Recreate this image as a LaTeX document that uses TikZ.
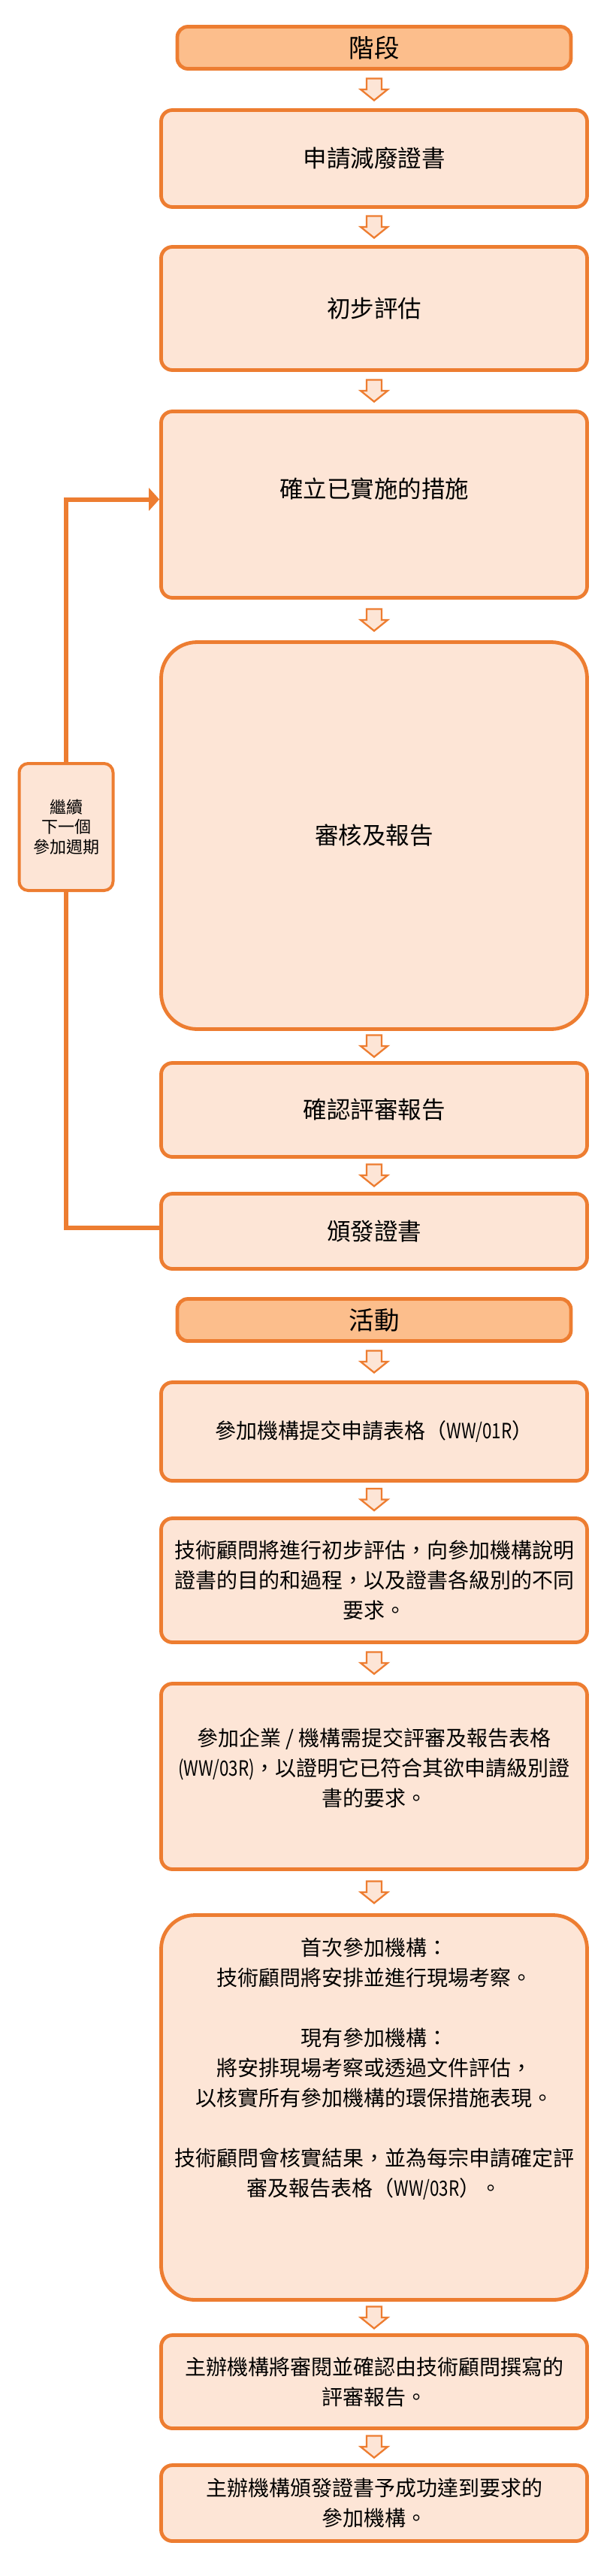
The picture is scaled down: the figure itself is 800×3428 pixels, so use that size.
\documentclass[tikz,border=0pt]{standalone}
\usepackage{fontspec}
\usepackage{graphicx}
\setmainfont{Noto Sans CJK TC}
\usetikzlibrary{calc,arrows.meta}
\definecolor{orn}{HTML}{ED7D31}
\definecolor{lite}{HTML}{FDE5D6}
\definecolor{hdrf}{HTML}{FCBE8C}
\newcommand\lat[1]{\scalebox{0.8}[1]{#1}}
\newcommand\barr[2]{%
  \coordinate (m-#1) at ($(#1.south)!0.5!(#2.north)$);
  \draw[barrow] ($(m-#1)+(-10,-14.5)$) -- ++(20,0) -- ++(0,14.5) -- ++(8,0)
     -- ($(m-#1)+(0,14.5)$) -- ($(m-#1)+(-18,0)$) -- ++(8,0) -- cycle;}
\begin{document}
\begin{tikzpicture}[x=1pt,y=-1pt,
  box/.style={draw=orn, fill=lite, line width=4.8pt, rounded corners=15pt, inner sep=0pt,
    minimum width=567pt, align=center, font=\fontsize{31.5}{40}\selectfont},
  hdr/.style={box, fill=hdrf, minimum width=524pt, minimum height=56pt, rounded corners=14pt,
    font=\fontsize{33.5}{40}\selectfont},
  act/.style={box, font=\fontsize{28}{40}\selectfont},
  stxt/.style={align=center, inner sep=0pt, font=\fontsize{31.5}{40}\selectfont},
  atxt/.style={align=center, inner sep=0pt, font=\fontsize{28}{40}\selectfont},
  loopbox/.style={draw=orn, fill=lite, line width=4pt, rounded corners=12pt, inner sep=0pt,
    minimum width=125pt, minimum height=169pt, align=center, font=\fontsize{22}{26.5}\selectfont},
  barrow/.style={draw=orn, fill=lite, line width=2.3pt, line join=miter},
  fb/.style={draw=orn, line width=6pt}]
\useasboundingbox (0,0) rectangle (800,3428);

% stages
\node[hdr] (h1) at (498,63.5) {階段};
\node[box, minimum height=129pt] (s1) at (498,211) {申請減廢證書};
\node[box, minimum height=164pt] (s2) at (498,410.5) {初步評估};
\node[box, minimum height=248pt, label={[stxt,yshift=21.5pt]center:確立已實施的措施}] (s3) at (498,671.5) {};
\node[box, minimum height=515pt, rounded corners=48pt] (s4) at (498,1112) {審核及報告};
\node[box, minimum height=125pt] (s5) at (498,1477) {確認評審報告};
\node[box, minimum height=100pt] (s6) at (498,1638.5) {頒發證書};

% loop
\node[loopbox] (loop) at (88,1100.5) {繼續\\下一個\\參加週期};
\draw[fb] ($(s6.west)+(0,-5)$) -| (loop.south);
\draw[fb,-{Triangle[length=14pt,width=30pt]}] (loop.north) |- ($(s3.west)+(0,-7)$);

% activities
\node[hdr] (h2) at (498,1756.5) {活動};
\node[act, minimum height=131pt] (a1) at (498,1905) {參加機構提交申請表格（\lat{WW/01R}）};
\node[act, minimum height=165pt] (a2) at (498,2103) {技術顧問將進行初步評估，向參加機構說明\\證書的目的和過程，以及證書各級別的不同\\要求。};
\node[act, minimum height=247pt, label={[atxt,yshift=11pt]center:參加企業 / 機構需提交評審及報告表格\\\lat{(WW/03R)}，以證明它已符合其欲申請級別證\\書的要求。}] (a3) at (498,2364) {};
\node[act, minimum height=512pt, rounded corners=45pt, label={[atxt,yshift=51.5pt]center:首次參加機構：\\技術顧問將安排並進行現場考察。\\[40pt]現有參加機構：\\將安排現場考察或透過文件評估，\\以核實所有參加機構的環保措施表現。\\[40pt]技術顧問會核實結果，並為每宗申請確定評\\審及報告表格（\lat{WW/03R}）。}] (a4) at (498,2804.5) {};
\node[act, minimum height=124pt] (a5) at (498,3169.5) {主辦機構將審閱並確認由技術顧問撰寫的\\評審報告。};
\node[act, minimum height=101pt] (a6) at (498,3331) {主辦機構頒發證書予成功達到要求的\\參加機構。};

% block arrows
\barr{h1}{s1}
\barr{s1}{s2}
\barr{s2}{s3}
\barr{s3}{s4}
\barr{s4}{s5}
\barr{s5}{s6}
\barr{h2}{a1}
\barr{a1}{a2}
\barr{a2}{a3}
\barr{a3}{a4}
\barr{a4}{a5}
\barr{a5}{a6}
\end{tikzpicture}
\end{document}
